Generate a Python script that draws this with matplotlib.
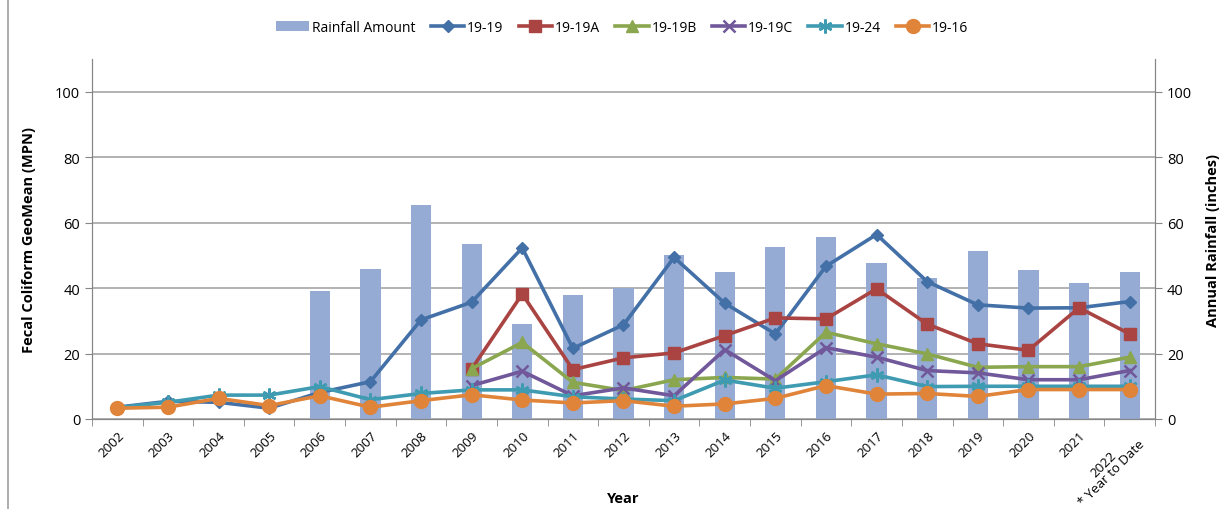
import numpy as np
import matplotlib.pyplot as plt
from matplotlib.lines import Line2D

plt.rcParams['font.family'] = ['Open Sans', 'DejaVu Sans']

years = ['2002', '2003', '2004', '2005', '2006', '2007', '2008', '2009', '2010',
         '2011', '2012', '2013', '2014', '2015', '2016', '2017', '2018', '2019',
         '2020', '2021', '2022\n* Year to Date']

nan = np.nan
rainfall = [nan, nan, nan, nan, 39, 46, 65.5, 53.5, 29, 38, 40, 50, 45, 52.5,
            55.5, 47.8, 43, 51.5, 45.7, 41.5, 45]

s_19_19 = [3.6, 5.4, 5.1, 3.3, 8.1, 11.4, 30.3, 35.7, 52.3, 21.6, 28.8, 49.4,
           35.4, 26, 46.7, 56.4, 42, 34.9, 33.9, 34, 35.9]
s_19_19a = [nan] * 7 + [15.3, 38.2, 15.1, 18.7, 20.2, 25.5, 30.9, 30.6, 39.8,
                        29, 23, 21, 34, 26]
s_19_19b = [nan] * 7 + [15.4, 23.4, 11.2, 8.7, 12, 12.7, 12.2, 26.5, 23, 19.9,
                        15.8, 16, 16, 18.9]
s_19_19c = [nan] * 7 + [10.2, 14.6, 7.1, 9.5, 7.1, 21.2, 11.7, 21.8, 18.9,
                        14.8, 14.1, 12, 12, 14.8]
s_19_24 = [3.5, 5.1, 7.3, 7.3, 9.9, 5.9, 7.8, 8.9, 8.9, 6.8, 6.1, 5.6, 11.9,
           9.4, 11.4, 13.5, 9.9, 10, 10, 10, 10]
s_19_16 = [3.3, 3.6, 6.3, 4.1, 7.1, 3.6, 5.6, 7.4, 5.8, 4.9, 5.6, 3.9, 4.6,
           6.3, 10.2, 7.6, 7.8, 6.9, 9, 9, 9]

series = [
    ('19-19', s_19_19, '#4470A8', 'D', 6.5),
    ('19-19A', s_19_19a, '#A94442', 's', 9),
    ('19-19B', s_19_19b, '#8AA64E', '^', 9),
    ('19-19C', s_19_19c, '#71589A', 'x', 9),
    ('19-24', s_19_24, '#3F9BB1', (6, 2, 0), 10),
    ('19-16', s_19_16, '#E0843A', 'o', 10),
]

fig = plt.figure(figsize=(12.2, 5.1), dpi=100)
ax2 = fig.add_axes([0.0754, 0.1765, 0.8713, 0.7055])
ax = ax2.twinx()
ax.set_zorder(ax2.get_zorder() + 1)
ax.patch.set_visible(False)

x = np.arange(len(years))
bars = ax2.bar(x, rainfall, width=0.4, color='#95ABD3', label='Rainfall Amount',
               zorder=2)

handles = [bars]
for name, vals, col, mk, ms in series:
    mew = 1.8 if mk in ('x', (6, 2, 0)) else 1
    h, = ax.plot(x, vals, color=col, lw=2.6, marker=mk, markersize=ms,
                 markeredgewidth=mew, markeredgecolor=col, label=name)
    handles.append(h)

# front axes carries the left scale, back axes the rainfall scale
ax.yaxis.tick_left()
ax.yaxis.set_label_position('left')
ax2.yaxis.tick_right()
ax2.yaxis.set_label_position('right')

for a in (ax, ax2):
    a.set_ylim(0, 110)
    a.set_yticks(range(0, 101, 20))
    a.set_xlim(-0.5, len(years) - 0.5)
    for sp in a.spines.values():
        sp.set_color('#868686')
    a.spines['top'].set_visible(False)
    a.tick_params(axis='y', colors='#868686', labelcolor='black', labelsize=10.5,
                  length=5, direction='out')

ax2.grid(axis='y', color='#A6A6A6', lw=1.2, zorder=0)
ax2.set_axisbelow(True)

ax.set_xticks(x)
ax.set_xticklabels([])
ax.tick_params(axis='x', length=0)
ax2.set_xticks(x)
ax2.set_xticklabels(years, rotation=45, ha='right', va='top', fontsize=9.5,
                    rotation_mode='anchor', linespacing=0.85,
                    multialignment='center')
ax2.set_xticks(np.arange(-0.5, len(years)), minor=True)
ax2.tick_params(axis='x', which='major', length=0, pad=7)
ax2.tick_params(axis='x', which='minor', length=5, color='#868686')

ax.set_ylabel('Fecal Coliform GeoMean (MPN)', fontsize=10.5, fontweight='bold',
              labelpad=14)
ax2.set_ylabel('Annual Rainfall (inches)', fontsize=10.5, fontweight='bold',
               rotation=90, labelpad=10)
ax2.set_xlabel('Year', fontsize=10.5, fontweight='bold')
ax2.xaxis.set_label_coords(0.5, -0.2)

fig.legend(handles=handles, labels=[h.get_label() for h in handles],
           loc='center', bbox_to_anchor=(0.51, 0.945), ncol=7, frameon=False,
           fontsize=10, handlelength=2.4, columnspacing=1.1, handletextpad=0.2)

fig.add_artist(Line2D([8 / 1220, 8 / 1220], [0, 1], color='#A0A0A0', lw=1.2))

fig.savefig('out.png', dpi=100)
